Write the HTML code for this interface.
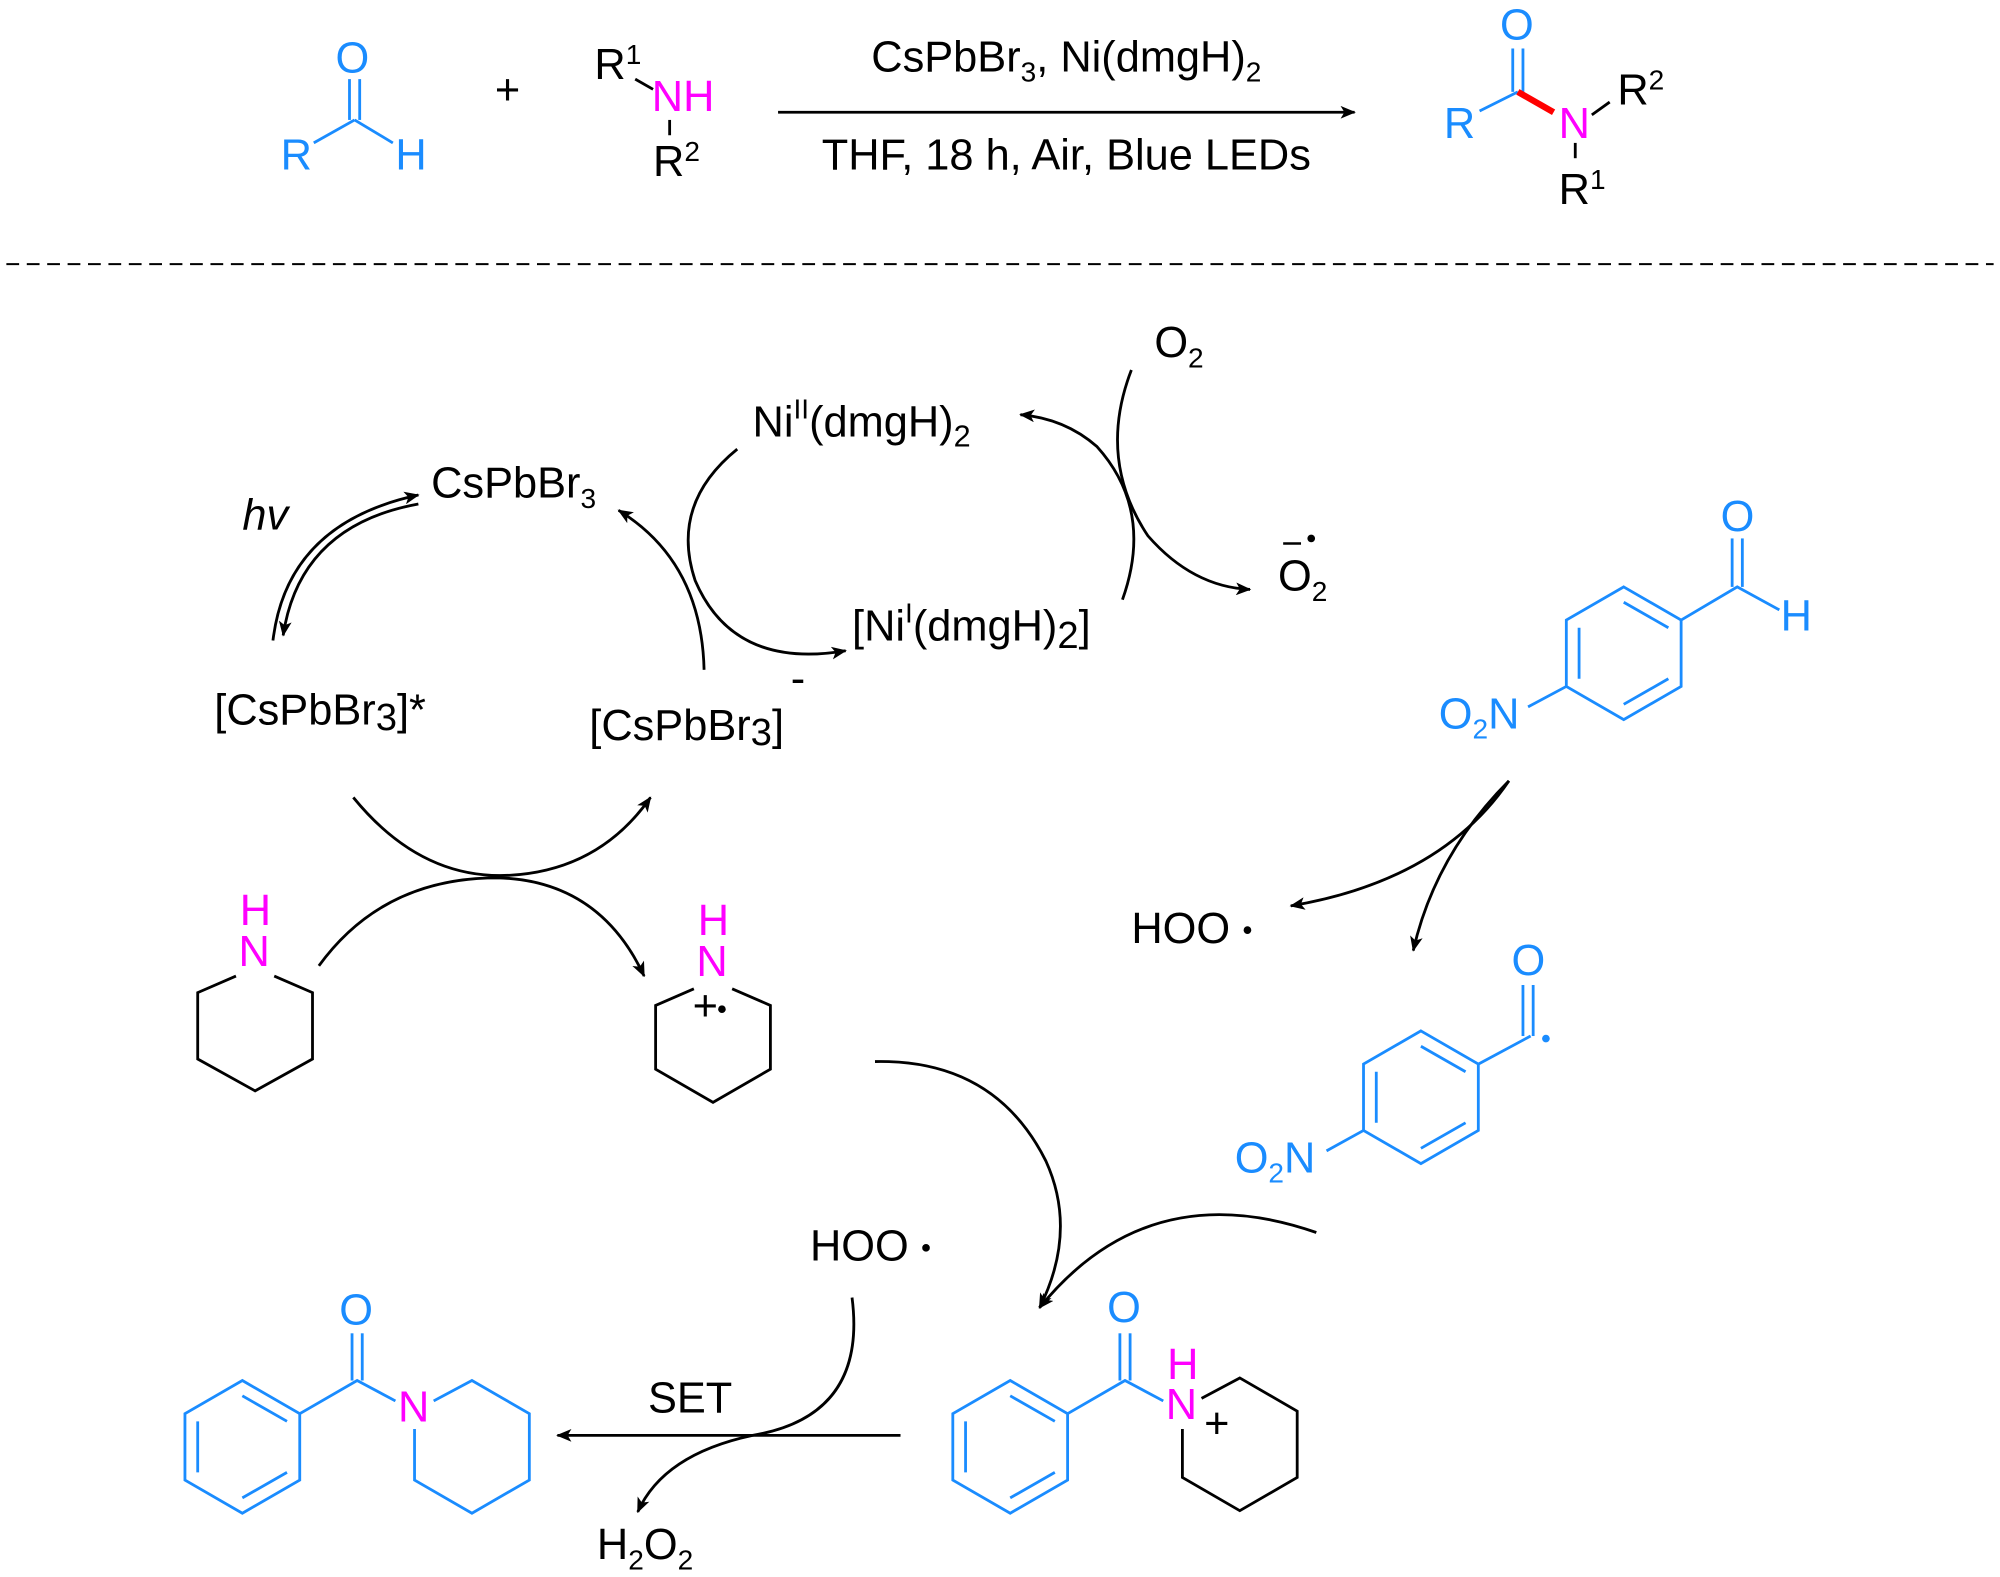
<!DOCTYPE html>
<html><head><meta charset="utf-8"><style>
html,body{margin:0;padding:0;background:#fff;}
svg{display:block;}
text{font-family:"Liberation Sans",Arial,sans-serif;font-size:34px;}
.b{fill:#1a8cff;} .m{fill:#ff00ff;} .k{fill:#000;}
</style></head><body>
<svg width="2000" height="1577" viewBox="0 0 1568 1236" preserveAspectRatio="none" xmlns="http://www.w3.org/2000/svg">
<defs>
<marker id="a" viewBox="0 0 12 10" refX="11" refY="5" markerWidth="12" markerHeight="10" markerUnits="userSpaceOnUse" orient="auto"><path d="M0,0 L12,5 L0,10 L3,5 z" fill="#000"/></marker>
</defs>
<g stroke="#000" stroke-width="2.2" fill="none">
<g stroke="#1a8cff">
<line x1="246" y1="112" x2="278" y2="94"/><line x1="278" y1="94" x2="308" y2="112"/>
<line x1="274" y1="62" x2="274" y2="94"/><line x1="282" y1="62" x2="282" y2="94"/>
<line x1="1160" y1="87" x2="1190" y2="72"/>
<line x1="1186" y1="38" x2="1186" y2="72"/><line x1="1194" y1="38" x2="1194" y2="72"/>
</g>
<line x1="1190" y1="72" x2="1218" y2="88" stroke="#ff0000" stroke-width="5"/>
<line x1="498" y1="62" x2="512" y2="70"/><line x1="525" y1="94" x2="525" y2="106"/>
<line x1="1248" y1="90" x2="1262" y2="80"/><line x1="1235" y1="112" x2="1235" y2="124"/>
<line x1="610" y1="88" x2="1062" y2="88" marker-end="url(#a)"/>
</g>
<line x1="5" y1="207" x2="1563" y2="207" stroke="#000" stroke-width="1.5" stroke-dasharray="10,6"/>
<text x="263" y="57" class="b">O</text>
<text x="220" y="133" class="b">R</text>
<text x="310" y="133" class="b">H</text>
<text x="388" y="82" class="k">+</text>
<text x="466" y="62" class="k">R<tspan dy="-12" font-size="22">1</tspan></text>
<text x="511" y="87" class="m">NH</text>
<text x="512" y="138" class="k">R<tspan dy="-12" font-size="22">2</tspan></text>
<text x="836" y="56" text-anchor="middle" class="k">CsPbBr<tspan dy="8" font-size="22">3</tspan><tspan dy="-8">, Ni(dmgH)</tspan><tspan dy="8" font-size="22">2</tspan></text>
<text x="836" y="133" text-anchor="middle" class="k">THF, 18 h, Air, Blue LEDs</text>
<text x="1176" y="31" class="b">O</text>
<text x="1132" y="108" class="b">R</text>
<text x="1222" y="108" class="m">N</text>
<text x="1268" y="82" class="k">R<tspan dy="-12" font-size="22">2</tspan></text>
<text x="1222" y="160" class="k">R<tspan dy="-12" font-size="22">1</tspan></text>

<text x="905" y="280" class="k">O<tspan dy="8" font-size="22">2</tspan></text>
<text x="590" y="342" class="k">Ni<tspan dy="-14" font-size="22">II</tspan><tspan dy="14">(dmgH)</tspan><tspan dy="8" font-size="24">2</tspan></text>
<text x="338" y="390" class="k">CsPbBr<tspan dy="8" font-size="22">3</tspan></text>
<text x="190" y="415" class="k" font-style="italic">hv</text>
<text x="1002" y="463" class="k">O<tspan dy="8" font-size="22">2</tspan></text>
<line x1="1006" y1="426" x2="1020" y2="426" stroke="#000" stroke-width="2"/>
<circle cx="1028" cy="422" r="3" fill="#000"/>
<text x="668" y="502" class="k">[Ni<tspan dy="-14" font-size="22">I</tspan><tspan dy="14">(dmgH)</tspan><tspan dy="6" font-size="30">2</tspan><tspan dy="-6">]</tspan></text>
<text x="168" y="568" class="k">[CsPbBr<tspan dy="4" font-size="30">3</tspan><tspan dy="-4">]*</tspan></text>
<text x="462" y="580" class="k">[CsPbBr<tspan dy="4" font-size="30">3</tspan><tspan dy="-4">]</tspan></text>
<text x="620" y="543" class="k" font-size="24">-</text>
<text x="887" y="739" class="k">HOO</text>
<circle cx="978" cy="729" r="3" fill="#000"/>
<text x="635" y="988" class="k">HOO</text>
<circle cx="726" cy="978" r="3" fill="#000"/>
<text x="508" y="1107" class="k">SET</text>
<text x="468" y="1222" class="k">H<tspan dy="8" font-size="22">2</tspan><tspan dy="-8">O</tspan><tspan dy="8" font-size="22">2</tspan></text>

<g stroke="#000" stroke-width="2.2" fill="none">
<path d="M214,502 Q225,410 328,388" marker-end="url(#a)"/>
<path d="M328,395 Q235,412 222,498" marker-end="url(#a)"/>
<path d="M578,352 Q525,395 545,455 Q575,525 663,510" marker-end="url(#a)"/>
<path d="M552,525 Q550,440 485,400" marker-end="url(#a)"/>
<path d="M887,290 Q860,360 900,420 Q935,460 980,462" marker-end="url(#a)"/>
<path d="M880,470 Q905,400 860,350 Q835,328 800,325" marker-end="url(#a)"/>
<path d="M277,625 Q330,690 400,686 Q470,682 510,625" marker-end="url(#a)"/>
<path d="M250,757 Q300,688 390,688 Q470,690 505,765" marker-end="url(#a)"/>
<path d="M1183,612 Q1130,690 1012,710" marker-end="url(#a)"/>
<path d="M1183,612 Q1125,670 1108,745" marker-end="url(#a)"/>
<path d="M686,832 Q780,830 820,910 Q845,965 815,1025" marker-end="url(#a)"/>
<path d="M1032,966 Q900,920 815,1025" marker-end="url(#a)"/>
<path d="M668,1017 Q680,1110 590,1125 Q520,1140 500,1185" marker-end="url(#a)"/>
<line x1="706" y1="1125" x2="437" y2="1125" marker-end="url(#a)"/>
<path d="M215,765 L245,778 L245,830 L200,855 L155,830 L155,778 L185,765"/>
<path d="M574,775 L604,788 L604,838 L559,864 L514,838 L514,788 L544,775"/>
</g>
<text x="188" y="725" class="m">H</text>
<text x="187" y="757" class="m">N</text>
<text x="547" y="733" class="m">H</text>
<text x="546" y="765" class="m">N</text>
<text x="543" y="800" class="k" font-size="26">+</text>
<circle cx="566" cy="791" r="3" fill="#000"/>

<g stroke="#1a8cff" stroke-width="2.2" fill="none">
<path d="M1273,460 L1318,486 L1318,538 L1273,564 L1228,538 L1228,486 Z"/>
<path d="M1273,472 L1308,492 M1308,532 L1273,552 M1238,532 L1238,492"/>
<path d="M1318,486 L1362,460 L1395,478"/>
<line x1="1358" y1="422" x2="1358" y2="460"/><line x1="1366" y1="422" x2="1366" y2="460"/>
<line x1="1228" y1="538" x2="1198" y2="554"/>
<path d="M1114,808 L1159,834 L1159,886 L1114,912 L1069,886 L1069,834 Z"/>
<path d="M1114,820 L1149,840 M1149,880 L1114,900 M1079,880 L1079,840"/>
<path d="M1159,834 L1200,812"/>
<line x1="1194" y1="772" x2="1194" y2="812"/><line x1="1202" y1="772" x2="1202" y2="812" />
<line x1="1069" y1="886" x2="1040" y2="902"/>
<path d="M190,1082 L235,1108 L235,1160 L190,1186 L145,1160 L145,1108 Z"/>
<path d="M190,1094 L225,1114 M225,1154 L190,1174 M155,1154 L155,1114"/>
<path d="M235,1108 L280,1082 L310,1098"/>
<line x1="276" y1="1045" x2="276" y2="1082"/><line x1="284" y1="1045" x2="284" y2="1082"/>
<path d="M325,1120 L325,1160 L370,1186 L415,1160 L415,1108 L370,1082 L340,1098"/>
<path d="M792,1082 L837,1108 L837,1160 L792,1186 L747,1160 L747,1108 Z"/>
<path d="M792,1094 L827,1114 M827,1154 L792,1174 M757,1154 L757,1114"/>
<path d="M837,1108 L882,1082 L912,1098"/>
<line x1="878" y1="1045" x2="878" y2="1082"/><line x1="886" y1="1045" x2="886" y2="1082"/>
</g>
<path d="M927,1120 L927,1158 L972,1184 L1017,1158 L1017,1106 L972,1080 L942,1096" stroke="#000" stroke-width="2.2" fill="none"/>
<text x="1349" y="416" class="b">O</text>
<text x="1396" y="494" class="b">H</text>
<text x="1128" y="571" class="b">O<tspan dy="8" font-size="22">2</tspan><tspan dy="-8">N</tspan></text>
<text x="1185" y="764" class="b">O</text>
<circle cx="1212" cy="814" r="3" fill="#1a8cff"/>
<text x="968" y="919" class="b">O<tspan dy="8" font-size="22">2</tspan><tspan dy="-8">N</tspan></text>
<text x="266" y="1038" class="b">O</text>
<text x="312" y="1114" class="m">N</text>
<text x="868" y="1036" class="b">O</text>
<text x="915" y="1081" class="m">H</text>
<text x="914" y="1112" class="m">N</text>
<text x="944" y="1127" class="k" font-size="24">+</text>
</svg>
</body></html>
